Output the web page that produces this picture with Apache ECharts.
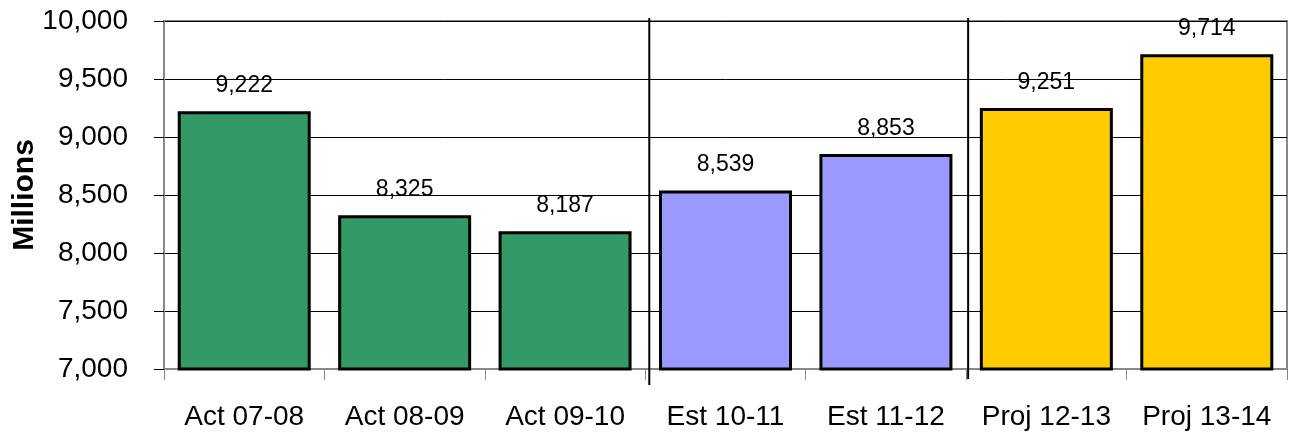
<!DOCTYPE html>
<html>
<head>
<meta charset="utf-8">
<script src="https://cdn.jsdelivr.net/npm/echarts@6/dist/echarts.min.js"></script>
<style>
html,body{margin:0;padding:0;background:#fff;}
#c{width:1289px;height:437px;}
</style>
</head>
<body>
<div id="c"></div>
<script>
var categories = ['Act 07-08','Act 08-09','Act 09-10','Est 10-11','Est 11-12','Proj 12-13','Proj 13-14'];
var values = [9222, 8325, 8187, 8539, 8853, 9251, 9714];
var barColors = ['#339966','#339966','#339966','#9999FF','#9999FF','#FFCC00','#FFCC00'];
var separatorsAfter = [2, 4];
var yMin = 7000, yMax = 10000, yStep = 500;

var FONT = '"Liberation Sans", Arial, sans-serif';
var chart = echarts.init(document.getElementById('c'), null, {renderer:'canvas'});

function fmt(v){ return v.toString().replace(/\B(?=(\d{3})+(?!\d))/g, ','); }

var option = {
  animation: false,
  backgroundColor: '#fff',
  grid: {left:164, right:2, top:21, bottom:68, containLabel:false, outerBoundsMode:'none',
         show:true, borderColor:'#888', borderWidth:2, backgroundColor:'transparent'},
  xAxis: {
    type:'category', data: categories,
    axisLine:{show:true, lineStyle:{color:'#888', width:2}},
    axisTick:{show:true, length:11, lineStyle:{color:'#888', width:1}},
    axisLabel:{interval:0, color:'#000', fontFamily:FONT, fontSize:28, margin:34},
    splitLine:{show:false}
  },
  yAxis: {
    type:'value', min:yMin, max:yMax, interval:yStep,
    name:'Millions', nameLocation:'middle', nameGap:124, nameMoveOverlap:false,
    nameTextStyle:{color:'#000', fontFamily:FONT, fontSize:30, fontWeight:'bold'},
    axisLine:{show:true, lineStyle:{color:'#888', width:2}},
    axisTick:{show:true, length:10, lineStyle:{color:'#000', width:1}},
    axisLabel:{color:'#000', fontFamily:FONT, fontSize:28, margin:36, formatter:function(v){return fmt(v);}},
    splitLine:{show:true, lineStyle:{color:'#000', width:1}}
  },
  series: [{
    type:'bar',
    data: values.map(function(v,i){ return {value:v, itemStyle:{color:barColors[i]}}; }),
    barWidth:133,
    itemStyle:{borderColor:'#000', borderWidth:3},
    label:{show:true, position:'top', distance:14, color:'#000', fontFamily:FONT, fontSize:23, formatter:function(p){return fmt(p.value);}}
  }]
};
chart.setOption(option);

var g = [];
separatorsAfter.forEach(function(idx, k){
  var a = chart.convertToPixel({xAxisIndex:0}, idx);
  var b = chart.convertToPixel({xAxisIndex:0}, idx+1);
  var x = (a+b)/2 + (k===0 ? 4 : 2);
  var yTop = chart.convertToPixel({yAxisIndex:0}, yMax) - 3;
  var yBot = chart.convertToPixel({yAxisIndex:0}, yMin) + (k===0 ? 16 : 10);
  g.push({type:'line', shape:{x1:x, y1:yTop, x2:x, y2:yBot}, style:{stroke:'#000', lineWidth:2}, z:100});
});
chart.setOption({graphic: g});
</script>
</body>
</html>
